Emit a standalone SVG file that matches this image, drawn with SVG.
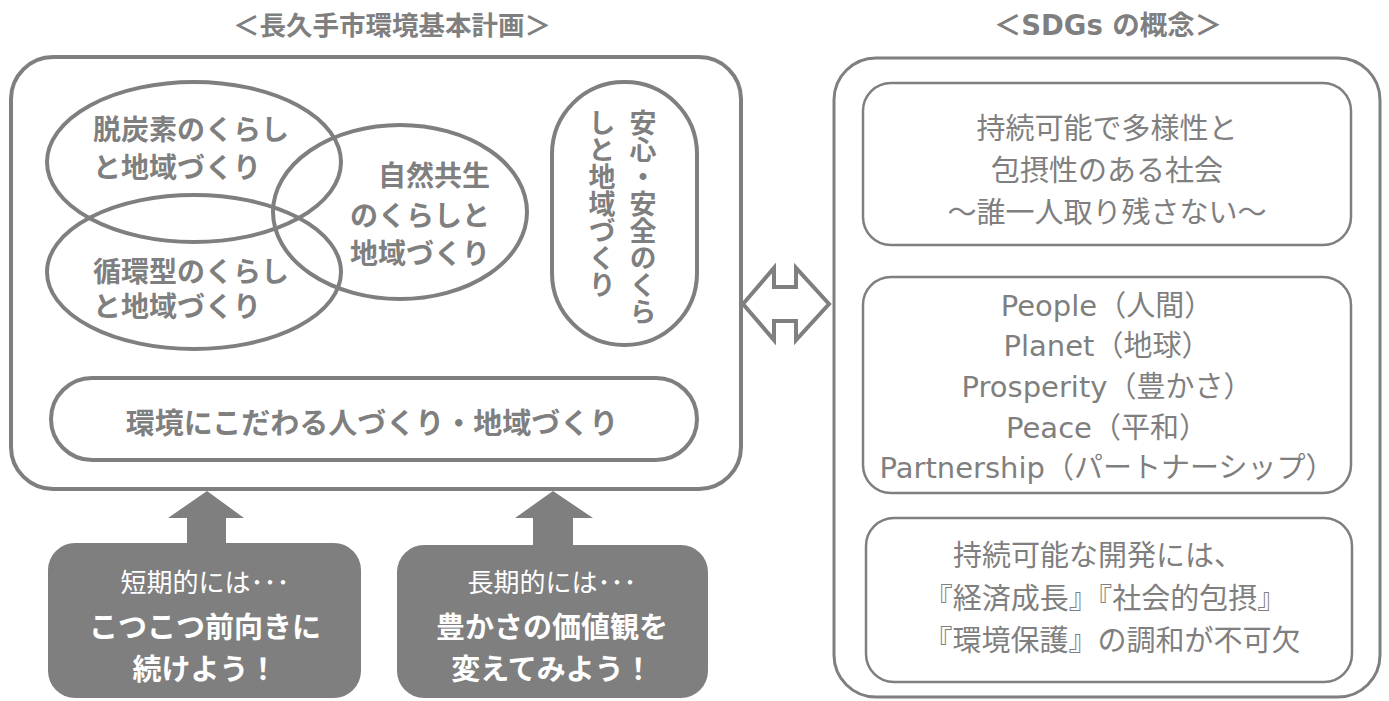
<svg xmlns="http://www.w3.org/2000/svg" width="1389" height="701" viewBox="0 0 1389 701">
<style>
.ln{fill:none;stroke:#7f7f7f;stroke-width:4}
.ln3{fill:none;stroke:#7f7f7f;stroke-width:3}
.thin{fill:#fff;stroke:#7f7f7f;stroke-width:2.5}
.dark{fill:#7f7f7f}
.jb{font-family:"Noto Sans CJK JP",sans-serif;font-weight:bold;fill:#7f7f7f}
.jr{font-family:"DejaVu Sans","Noto Sans CJK JP",sans-serif;fill:#7f7f7f}
.wr{font-family:"Noto Sans CJK JP",sans-serif;fill:#fff}
.wb{font-family:"Noto Sans CJK JP",sans-serif;font-weight:bold;fill:#fff}
.vt{writing-mode:vertical-rl}
</style>
<rect width="1389" height="701" fill="#fff"/>
<g id="title-left"><text class="jb" x="392" y="35" font-size="26.5" text-anchor="middle">＜長久手市環境基本計画＞</text></g>
<g id="title-right"><text class="jb" x="1108" y="35" font-size="27.5" text-anchor="middle" style="font-family:'DejaVu Sans','Noto Sans CJK JP',sans-serif">＜SDGs の概念＞</text></g>
<g id="plan-frame"><rect class="ln" x="11" y="57" width="730" height="432" rx="42"/></g>
<g id="datsutanso"><ellipse class="ln" cx="194" cy="162" rx="147" ry="80"/>
<text class="jb" x="93" y="140" font-size="28">脱炭素のくらし</text>
<text class="jb" x="93" y="178" font-size="28">と地域づくり</text></g>
<g id="junkan"><ellipse class="ln" cx="194" cy="272" rx="147" ry="77"/>
<text class="jb" x="93" y="282" font-size="28">循環型のくらし</text>
<text class="jb" x="93" y="317" font-size="28">と地域づくり</text></g>
<g id="shizen"><ellipse class="ln" cx="400" cy="212" rx="127" ry="87"/>
<text class="jb" x="490" y="186" font-size="28" text-anchor="end">自然共生</text>
<text class="jb" x="490" y="226" font-size="28" text-anchor="end">のくらしと</text>
<text class="jb" x="490" y="264" font-size="28" text-anchor="end">地域づくり</text></g>
<g id="anshin"><rect class="ln" x="552" y="82" width="145" height="263" rx="72"/>
<text class="jb vt" x="643" y="109" font-size="27">安心・安全のくら</text>
<text class="jb vt" x="602" y="109" font-size="27">しと地域づくり</text></g>
<g id="hitozukuri"><rect class="ln" x="51" y="378" width="646" height="82" rx="41"/>
<text class="jb" x="372" y="434" font-size="29" text-anchor="middle">環境にこだわる人づくり・地域づくり</text></g>
<g id="connectors">
<polygon class="dark" points="207,491 244,518 226,518 226,545 187,545 187,518 168,518"/>
<polygon class="dark" points="553,491 593,518 573,518 573,547 533,547 533,518 515,518"/>
<polygon points="743,304 774,268 774,287 796,287 796,268 829,304 796,340 796,321 774,321 774,340" fill="#fff" stroke="#7f7f7f" stroke-width="4" stroke-linejoin="miter"/>
</g>
<g id="short-term"><rect class="dark" x="48" y="543" width="313" height="155" rx="27"/>
<text class="wr" x="205" y="592" font-size="26" text-anchor="middle">短期的には･･･</text>
<text class="wb" x="205" y="638" font-size="29" text-anchor="middle">こつこつ前向きに</text>
<text class="wb" x="205" y="680" font-size="29" text-anchor="middle">続けよう！</text></g>
<g id="long-term"><rect class="dark" x="397" y="545" width="311" height="153" rx="27"/>
<text class="wr" x="552" y="592" font-size="26" text-anchor="middle">長期的には･･･</text>
<text class="wb" x="552" y="638" font-size="29" text-anchor="middle">豊かさの価値観を</text>
<text class="wb" x="552" y="680" font-size="29" text-anchor="middle">変えてみよう！</text></g>
<g id="sdgs-frame"><rect class="ln3" x="834" y="58" width="546" height="639" rx="42"/></g>
<g id="society"><rect class="thin" x="863" y="83" width="488" height="162" rx="28"/>
<text class="jr" x="1107" y="139" font-size="29" text-anchor="middle">持続可能で多様性と</text>
<text class="jr" x="1107" y="181" font-size="29" text-anchor="middle">包摂性のある社会</text>
<text class="jr" x="1107" y="223" font-size="29" text-anchor="middle">～誰一人取り残さない～</text></g>
<g id="five-p"><rect class="thin" x="863" y="277" width="488" height="216" rx="28"/>
<text class="jr" x="1107" y="316" font-size="29" text-anchor="middle">People（人間）</text>
<text class="jr" x="1107" y="356" font-size="29" text-anchor="middle">Planet（地球）</text>
<text class="jr" x="1107" y="397" font-size="29" text-anchor="middle">Prosperity（豊かさ）</text>
<text class="jr" x="1107" y="438" font-size="29" text-anchor="middle">Peace（平和）</text>
<text class="jr" x="1107" y="478" font-size="29" text-anchor="middle">Partnership（パートナーシップ）</text></g>
<g id="development"><rect class="thin" x="866" y="518" width="486" height="164" rx="28"/>
<text class="jr" x="1098" y="566" font-size="29" text-anchor="middle">持続可能な開発には、</text>
<text class="jr" x="1105" y="609" font-size="29" text-anchor="middle">『経済成長』『社会的包摂』</text>
<text class="jr" x="1112" y="651" font-size="29" text-anchor="middle">『環境保護』の調和が不可欠</text></g>
</svg>
